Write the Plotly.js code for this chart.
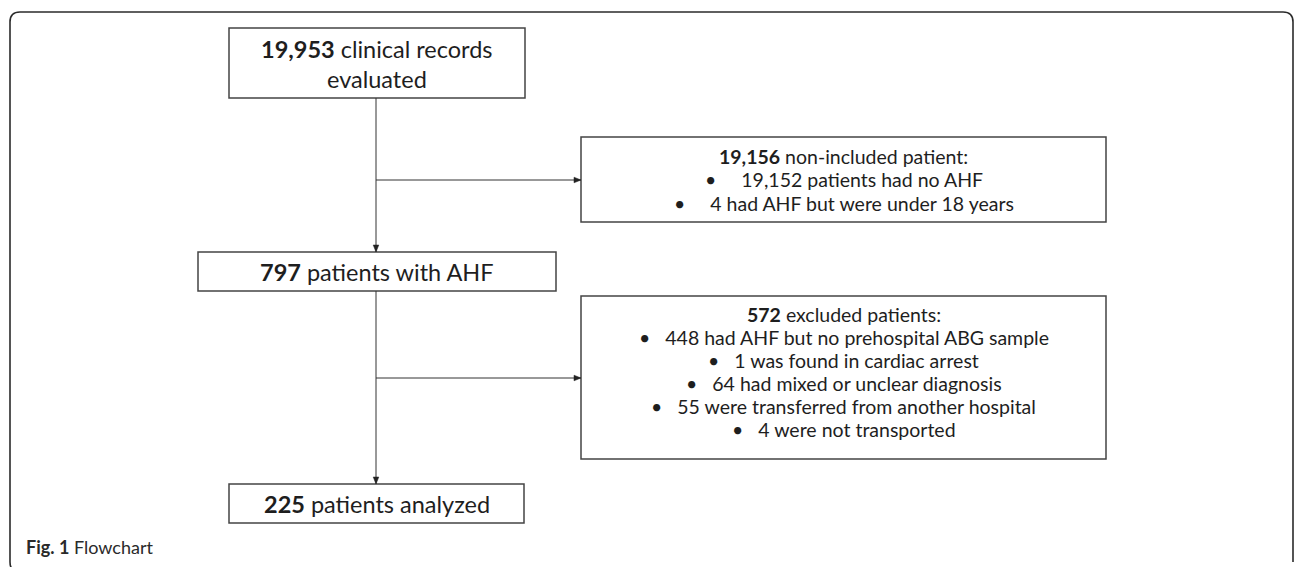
<!DOCTYPE html>
<html>
<head>
<meta charset="utf-8">
<script src="https://cdn.plot.ly/plotly-3.0.1.min.js"></script>
<style>
html,body{margin:0;padding:0;background:#fff;}
#chart{width:1296px;height:567px;}
</style>
</head>
<body>
<div id="chart"></div>
<script>
// ---------- DATA ----------
const flowCounts = ['19,953', '797', '225'];
const flowLabels = [['clinical records', 'evaluated'], ['patients with AHF'], ['patients analyzed']];
const exclCounts = ['19,156', '572'];
const exclHeads = ['non-included patient:', 'excluded patients:'];
const exclReasons = [
  ['19,152 patients had no AHF', '4 had AHF but were under 18 years'],
  ['448 had AHF but no prehospital ABG sample', '1 was found in cardiac arrest',
   '64 had mixed or unclear diagnosis', '55 were transferred from another hospital',
   '4 were not transported']
];
const captionLabel = 'Fig. 1';
const captionText = 'Flowchart';

// ---------- LAYOUT GEOMETRY ----------
const W = 1296, H = 567;
const FONT = 'Lato, "Open Sans", sans-serif';
const TXT = '#1e1e1e';
const spineX = 376;
const mainBoxes = [
  {x0: 229, x1: 525, y0: 28, y1: 98, lineY: [49, 79]},
  {x0: 198, x1: 556, y0: 252, y1: 291, lineY: [271.5]},
  {x0: 229, x1: 524, y0: 484, y1: 523, lineY: [503.5]}
];
const sideBoxes = [
  {x0: 581, x1: 1106, y0: 137, y1: 222, arrowY: 180, firstY: 156, step: 23.5, gap: 5},
  {x0: 581, x1: 1106, y0: 296, y1: 459, arrowY: 378, firstY: 314, step: 23, gap: 3}
];
const mainSize = 23.5, sideSize = 19.5;

const shapes = [];
const annotations = [];

// outer rounded frame
const fx0 = 10, fx1 = 1293, fy0 = 12, fy1 = 572, r = 10;
shapes.push({
  type: 'path', xref: 'x', yref: 'y',
  path: `M ${fx0 + r},${fy1} Q ${fx0},${fy1} ${fx0},${fy1 - r} L ${fx0},${fy0 + r} Q ${fx0},${fy0} ${fx0 + r},${fy0} ` +
        `L ${fx1 - r},${fy0} Q ${fx1},${fy0} ${fx1},${fy0 + r} L ${fx1},${fy1 - r}`,
  line: {color: '#2b2b2b', width: 1.6}
});

const boxLine = {color: '#444444', width: 1.5};
function box(b) {
  shapes.push({type: 'rect', xref: 'x', yref: 'y', x0: b.x0, x1: b.x1, y0: b.y0, y1: b.y1,
    line: boxLine, fillcolor: 'rgba(0,0,0,0)'});
}
const conn = {color: '#333333', width: 1};
function line(x0, y0, x1, y1) {
  shapes.push({type: 'line', xref: 'x', yref: 'y', x0, y0, x1, y1, line: conn});
}
function headDown(x, y) {
  shapes.push({type: 'path', xref: 'x', yref: 'y', path: `M ${x - 2.8},${y - 7} L ${x + 2.8},${y - 7} L ${x},${y} Z`,
    fillcolor: '#222', line: {color: '#222', width: 0.5}});
}
function headRight(x, y) {
  shapes.push({type: 'path', xref: 'x', yref: 'y', path: `M ${x - 7},${y - 2.8} L ${x - 7},${y + 2.8} L ${x},${y} Z`,
    fillcolor: '#222', line: {color: '#222', width: 0.5}});
}
function txt(x, y, text, size, anchor) {
  annotations.push({xref: 'x', yref: 'y', x, y, text, showarrow: false,
    xanchor: anchor || 'center', yanchor: 'middle',
    font: {family: FONT, size, color: TXT}});
}

// main boxes
mainBoxes.forEach((b, i) => {
  box(b);
  const cx = (b.x0 + b.x1) / 2;
  flowLabels[i].forEach((lab, j) => {
    const t = j === 0 ? `<b>${flowCounts[i]}</b> ${lab}` : lab;
    txt(cx, b.lineY[j], t, mainSize);
  });
});

// spine connectors
line(spineX, mainBoxes[0].y1, spineX, mainBoxes[1].y0);
headDown(spineX, mainBoxes[1].y0);
line(spineX, mainBoxes[1].y1, spineX, mainBoxes[2].y0);
headDown(spineX, mainBoxes[2].y0);

// side boxes
sideBoxes.forEach((b, i) => {
  box(b);
  line(spineX, b.arrowY, b.x0, b.arrowY);
  headRight(b.x0, b.arrowY);
  const cx = (b.x0 + b.x1) / 2;
  const bullet = '\u2022' + '\u00A0'.repeat(b.gap);
  txt(cx, b.firstY, `<b>${exclCounts[i]}</b> ${exclHeads[i]}`, sideSize);
  exclReasons[i].forEach((s, j) => {
    txt(cx, b.firstY + b.step * (j + 1), bullet + s, sideSize);
  });
});

// caption
annotations.push({xref: 'x', yref: 'y', x: 24, y: 547, xanchor: 'left', yanchor: 'middle', showarrow: false,
  text: `<b>${captionLabel}</b> ${captionText}`, font: {family: FONT, size: 18, color: '#2a2a2a'}});

const layout = {
  width: W, height: H,
  margin: {l: 0, r: 0, t: 0, b: 0},
  paper_bgcolor: '#ffffff', plot_bgcolor: '#ffffff',
  xaxis: {range: [0, W], visible: false, fixedrange: true},
  yaxis: {range: [H, 0], visible: false, fixedrange: true},
  shapes, annotations, showlegend: false
};
Plotly.newPlot('chart', [], layout, {staticPlot: true, displayModeBar: false});
</script>
</body>
</html>
